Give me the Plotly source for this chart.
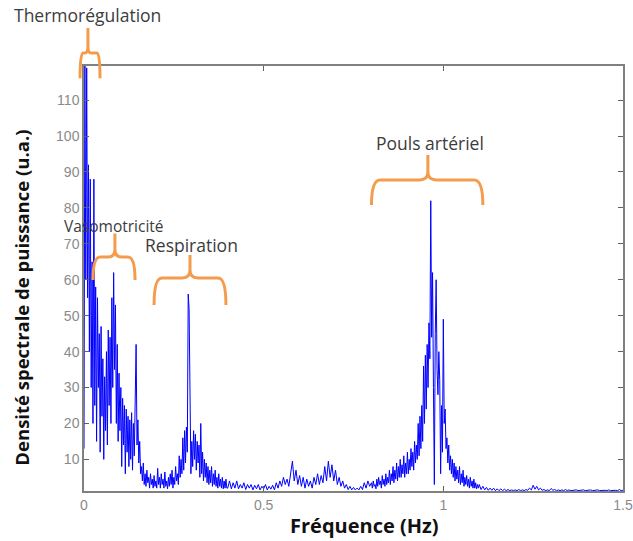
import plotly.graph_objects as go

# spectral density; each band has its own frequency grid
# (start Hz, step Hz, values)
psd_low = [  # 0.000 - 0.1575 Hz (thermoregulation + vasomotricity)
    13, 119.5, 60, 119, 55, 92, 40, 88, 30, 65,
    20, 88, 25, 58, 15, 55, 30, 45, 12, 47,
    22, 38, 10, 33, 18, 40, 14, 46, 25, 44,
    20, 55, 30, 62, 35, 53, 20, 42, 15, 34,
    18, 30, 8, 27, 14, 25, 6, 24, 12, 22,
    8, 21, 10, 23, 7, 20, 11, 24, 42, 14,
    21, 9, 15, 6,
]
psd_resp = [  # 0.160 - 0.3975 Hz (respiration)
    8, 4, 9, 3, 6, 2.5, 7, 3.5, 5, 2,
    6, 3, 4.5, 2, 5.5, 2.5, 4, 2, 7.5, 3,
    5, 2, 6, 3, 4.5, 2, 6.5, 2.5, 4, 1.8,
    5, 2.5, 6, 3, 7, 2, 5, 3, 8, 4,
    6, 3, 11, 5, 10, 6, 16, 7, 18, 9,
    19, 12, 56, 52, 33, 6, 15, 8, 18, 10,
    17, 7, 15, 9, 14, 5, 20, 6, 12, 4,
    10, 5, 9, 3.5, 8, 3, 7, 3.5, 8, 2.5,
    6, 3, 7, 2.5, 5, 2, 6, 2.5, 4.5, 2,
    5, 1.8, 4, 2, 4.5, 2,
]
psd_mid = [  # 0.400 - 0.795 Hz
    2, 4, 1.8, 3.5, 2, 4, 1.8, 3, 2, 3.5,
    1.6, 3, 2, 3, 1.5, 2.8, 1.8, 3, 1.5, 2.5,
    1.8, 3, 1.5, 2.5, 1.7, 2.8, 1.5, 3.5, 2, 4,
    2.5, 5, 3, 4.5, 2.5, 6, 9.5, 4, 7, 3,
    5.5, 2.5, 5, 2, 4.5, 2.5, 4, 2, 5, 3,
    6, 3, 5.5, 3.5, 8, 4, 9.5, 5, 8.5, 4,
    7, 3, 5, 2.5, 4, 2, 3, 1.6, 2.5, 1.5,
    2.2, 1.5, 2, 1.5, 2.5, 1.6, 3.5, 2, 4, 2.5,
]
psd_pulse = [  # 0.800 - 1.0975 Hz (arterial pulse)
    3.5, 2, 4, 2.5, 3, 1.8, 4.5, 2.5, 5, 3,
    4, 2, 5.5, 3, 4.5, 2.5, 6, 3, 5, 3.5,
    7, 3, 6, 4, 8, 3.5, 7, 4.5, 9, 4,
    8, 5, 10, 5, 8.5, 6, 11, 5, 9, 6,
    12, 6, 10, 7, 13, 8, 12, 7, 15, 9,
    14, 10, 20, 11, 22, 13, 25, 15, 36, 20,
    39, 24, 42, 30, 48, 38, 82, 44, 62, 30,
    3, 45, 60, 35, 28, 40, 32, 6, 25, 12,
    49, 20, 24, 13, 16, 9, 14, 7, 11, 6,
    10, 5, 9, 4, 8, 4.5, 7, 3.5, 8, 3,
    6, 3.5, 7, 2.5, 5, 3, 5.5, 2.5, 4.5, 2,
    5, 2.5, 4, 2, 4.5, 2, 3.5, 1.8, 3, 2,
]
psd_tail = [  # 1.100 - 1.500 Hz
    3, 1.6, 2.5, 1.5, 2.2, 1.4, 2, 1.4, 2, 1.3,
    1.8, 1.3, 1.8, 1.3, 1.7, 1.3, 1.6, 1.3, 1.5, 1.3,
    1.5, 1.3, 1.6, 1.3, 1.5, 1.3, 1.6, 1.4, 2, 1.5,
    2.8, 1.7, 2.5, 1.5, 2, 1.4, 1.6, 1.3, 1.5, 1.3,
    1.9, 1.4, 1.6, 1.3, 1.5, 1.3, 1.5, 1.3, 1.6, 1.3,
    1.5, 1.3, 1.4, 1.3, 1.5, 1.3, 1.4, 1.3, 1.5, 1.3,
    1.4, 1.3, 1.5, 1.3, 1.4, 1.3, 1.5, 1.3, 1.4, 1.3,
    1.4, 1.3, 1.5, 1.3, 1.4, 1.3, 1.4, 1.3, 1.6, 1.3,
    1.4,
]
band_grids = [  # (start, step) of each list above
    (0.0, 0.0025), (0.16, 0.0025), (0.40, 0.005), (0.80, 0.0025), (1.10, 0.005),
]

x_ticks = [0, 0.5, 1, 1.5]
x_tick_labels = ["0", "0.5", "1", "1.5"]
y_ticks = [10, 20, 30, 40, 50, 60, 70, 80, 90, 100, 110]

freq, psd = [], []
for (start, step), vals in zip(band_grids, [psd_low, psd_resp, psd_mid, psd_pulse, psd_tail]):
    freq += [round(start + i * step, 4) for i in range(len(vals))]
    psd += vals

X_MIN, X_MAX = 0, 1.5
Y_MIN, Y_MAX = 1.2, 119.5

# physiological bands: label position and brace (left, right, centre, end, join, tip)
bands = [
    dict(text="Thermorégulation", lx=0.011, ly=133.7, size=17.5,
         brace=(-0.011, 0.0445, 0.011, 116.1, 123.1, 130.1), r=0.008),
    dict(text="Vasomotricité", lx=0.0835, ly=75.1, size=15.5,
         brace=(0.025, 0.142, 0.086, 59.9, 66.3, 72.9), r=0.02),
    dict(text="Respiration", lx=0.30, ly=69.6, size=17.5,
         brace=(0.195, 0.395, 0.295, 53.0, 60.5, 66.9), r=0.022),
    dict(text="Pouls artériel", lx=0.963, ly=98.0, size=17.5,
         brace=(0.80, 1.11, 0.957, 80.8, 87.8, 94.7), r=0.024),
]

ORANGE = "#F49B4C"
LABEL_COLOR = "#3c3c3c"


def px(f):
    return (f - X_MIN) / (X_MAX - X_MIN)


def py(v):
    return (v - Y_MIN) / (Y_MAX - Y_MIN)


def brace_path(xl, xr, xc, ye, yj, yt, r):
    rv = 2.2
    pts = [
        f"M {px(xl)},{py(ye)}",
        f"Q {px(xl)},{py(yj)} {px(xl + r)},{py(yj)}",
        f"L {px(xc - r)},{py(yj)}",
        f"Q {px(xc)},{py(yj)} {px(xc)},{py(yj + rv)}",
        f"L {px(xc)},{py(yt)}",
        f"M {px(xc)},{py(yj + rv)}",
        f"Q {px(xc)},{py(yj)} {px(xc + r)},{py(yj)}",
        f"L {px(xr - r)},{py(yj)}",
        f"Q {px(xr)},{py(yj)} {px(xr)},{py(ye)}",
    ]
    return " ".join(pts)


fig = go.Figure(go.Scatter(
    x=freq,
    y=psd,
    mode="lines",
    line=dict(color="#0000FF", width=1),
    hoverinfo="x+y",
))

shapes = []
annotations = []
for b in bands:
    shapes.append(dict(
        type="path", xref="paper", yref="paper",
        path=brace_path(*b["brace"], b["r"]),
        line=dict(color=ORANGE, width=3),
    ))
    annotations.append(dict(
        text=b["text"], xref="paper", yref="paper",
        x=px(b["lx"]), y=py(b["ly"]),
        xanchor="center", yanchor="middle",
        showarrow=False,
        font=dict(family="Open Sans, sans-serif", size=b["size"], color=LABEL_COLOR),
    ))

annotations.append(dict(
    text="<b>Fréquence (Hz)</b>", xref="paper", yref="paper",
    x=0.521, y=-0.08, xanchor="center", yanchor="middle", showarrow=False,
    font=dict(family="Open Sans, sans-serif", size=20, color="#111111"),
))
annotations.append(dict(
    text="<b>Densité spectrale de puissance (u.a.)</b>", xref="paper", yref="paper",
    x=-0.115, y=0.455, xanchor="center", yanchor="middle", textangle=-90, showarrow=False,
    font=dict(family="Open Sans, sans-serif", size=18.5, color="#111111"),
))

axis_common = dict(
    automargin=False,
    showgrid=False,
    zeroline=False,
    showline=True,
    mirror="ticks",
    linecolor="#808080",
    linewidth=1.5,
    ticks="inside",
    ticklen=5,
    tickcolor="#606060",
    ticklabeloverflow="allow",
    tickfont=dict(family="Liberation Sans, Arial, sans-serif", size=14, color="#8a8a8a"),
)

fig.update_layout(
    width=633,
    height=541,
    paper_bgcolor="white",
    plot_bgcolor="white",
    margin=dict(l=84, r=10, t=66, b=50),
    showlegend=False,
    shapes=shapes,
    annotations=annotations,
    xaxis=dict(range=[X_MIN, X_MAX], tickvals=x_ticks, ticktext=x_tick_labels, **axis_common),
    yaxis=dict(range=[Y_MIN, Y_MAX], tickvals=y_ticks, **axis_common),
)

# drop the default 8px body margin so the figure fills the window exactly
fig.write_html(
    "out.html",
    config={"displayModeBar": False},
    post_script="document.body.style.margin = '0px';",
)
